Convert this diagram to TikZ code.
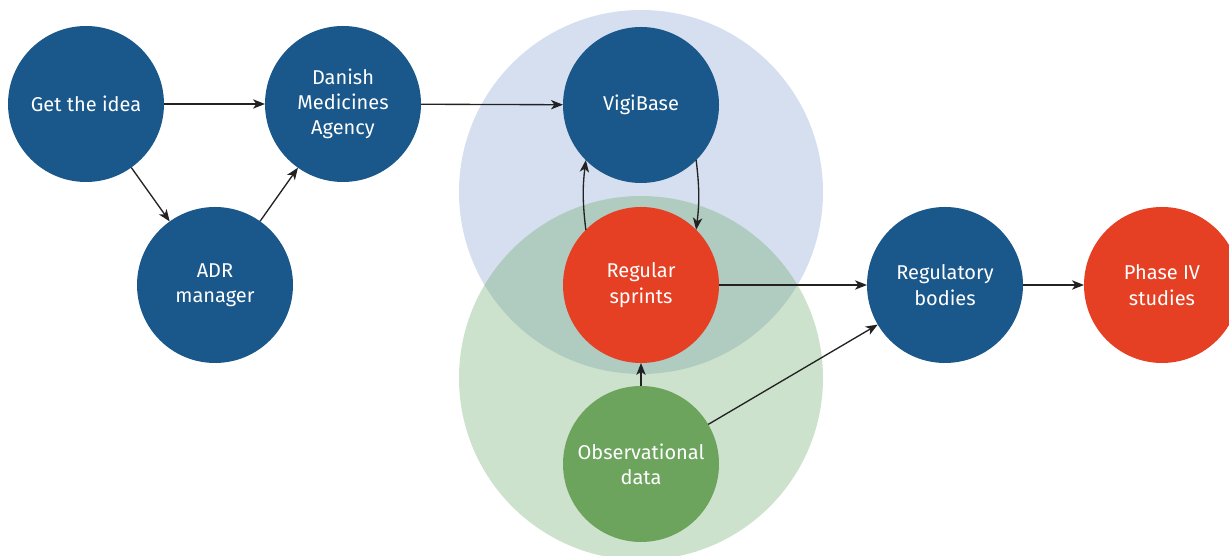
\documentclass[tikz,border=0pt]{standalone}
\usepackage{fontspec}
\setmainfont{Fira Sans}
\usetikzlibrary{arrows.meta}
\definecolor{adrblue}{HTML}{1A578A}
\definecolor{sprintred}{HTML}{E53F24}
\definecolor{obsgreen}{HTML}{6CA45E}
\definecolor{vigiback}{HTML}{D5DFEF}
\definecolor{obsback}{HTML}{5EA15A}
\definecolor{arrowgrey}{HTML}{222222}

\begin{document}
\begin{tikzpicture}[x=0.75pt,y=0.75pt,
    stage/.style={circle,fill=adrblue,text=white,minimum size=117pt,inner sep=0pt,
        outer sep=0pt,align=center,font=\fontsize{15}{19}\selectfont},
    flow/.style={draw=arrowgrey,line width=1pt,-{Stealth[length=9pt,width=7pt,inset=2.5pt]}}]
    \useasboundingbox (0,0) rectangle (1229,556);
    \clip (0,0) rectangle (1229,556);
    \fill[vigiback] (641,364) circle[radius=182];
    \fill[obsback,opacity=0.31] (641,178) circle[radius=182];
    \node[stage] (idea) at (86,452) {Get the idea};
    \node[stage] (dma) at (343,452) {Danish\\Medicines\\Agency};
    \node[stage] (adr) at (215,271) {ADR\\manager};
    \node[stage] (vigi) at (641,451) {VigiBase};
    \node[stage,fill=sprintred] (sprints) at (641,271) {Regular\\sprints};
    \node[stage,fill=obsgreen] (obs) at (641,92) {Observational\\data};
    \node[stage] (reg) at (945,271) {Regulatory\\bodies};
    \node[stage,fill=sprintred] (phase) at (1162,271) {Phase IV\\studies};
    \draw[flow] (idea) -- (dma);
    \draw[flow] (idea) -- (adr);
    \draw[flow] (adr) -- (dma);
    \draw[flow] (dma) -- (vigi);
    \draw[flow] (vigi.-45) to[out=-83,in=83] (sprints.45);
    \draw[flow] (sprints.135) to[out=97,in=-97] (vigi.-135);
    \draw[flow] (sprints) -- (reg);
    \draw[flow] (obs) -- (sprints);
    \draw[flow] (obs) -- (reg);
    \draw[flow] (reg) -- (phase);
\end{tikzpicture}
\end{document}
